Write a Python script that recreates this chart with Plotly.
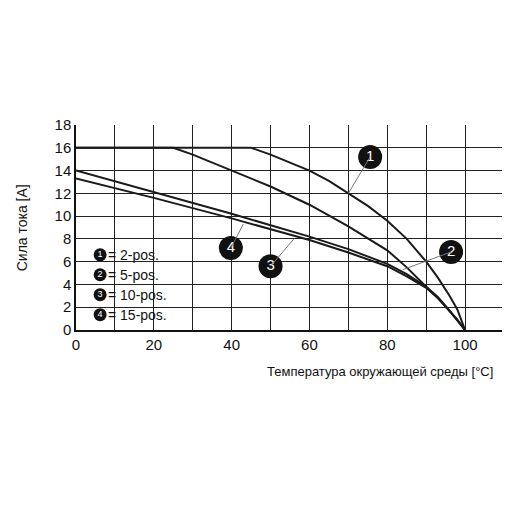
import plotly.graph_objects as go

x1 = [0, 45, 50, 55, 60, 65, 70, 75, 80, 85, 90, 93, 96, 98, 100]
y1 = [16, 16, 15.4, 14.7, 14, 13.1, 12, 10.9, 9.6, 8.0, 6.0, 4.6, 3.0, 1.8, 0]
x2 = [0, 25, 30, 40, 50, 60, 70, 80, 85, 90, 93, 96, 98, 100]
y2 = [16, 16, 15.4, 14, 12.6, 11, 9.1, 7, 5.5, 3.8, 2.8, 1.7, 0.9, 0]
x3 = [0, 20, 40, 60, 70, 80, 85, 90, 93, 96, 98, 100]
y3 = [13.3, 11.6, 9.8, 7.9, 6.8, 5.6, 4.7, 3.7, 2.8, 1.7, 0.9, 0]
x4 = [0, 20, 40, 60, 70, 80, 85, 90, 93, 96, 98, 100]
y4 = [14, 12.1, 10.2, 8.2, 7.1, 5.8, 4.9, 3.8, 2.9, 1.7, 0.9, 0]
labels = ["1", "2", "3", "4"]
label_pos = [(75.6, 15.2), (96.4, 6.85), (50, 5.6), (39.8, 7.2)]
leader_from = [(70, 12), (84, 5.3), (56, 8.0), (43, 9.3)]
legend_text = ["= 2-pos.", "= 5-pos.", "= 10-pos.", "= 15-pos."]

fig = go.Figure()
fig.add_shape(type="rect", x0=3, x1=30, y0=0.8, y1=7.5, fillcolor="white", line_width=0, layer="below")
for xs, ys in [(x1, y1), (x2, y2), (x3, y3), (x4, y4)]:
    fig.add_trace(go.Scatter(x=xs, y=ys, mode="lines", line=dict(color="#1a1a1a", width=2), showlegend=False))
for (lx, ly), (fx, fy), t in zip(label_pos, leader_from, labels):
    fig.add_shape(type="line", x0=fx, y0=fy, x1=lx, y1=ly, line=dict(color="#777", width=1))
    fig.add_trace(go.Scatter(x=[lx], y=[ly], mode="markers+text", text=[t],
                             marker=dict(size=24, color="#111"),
                             textfont=dict(color="white", size=15, family="Liberation Sans"),
                             showlegend=False))
for i, t in enumerate(legend_text):
    yy = 6.6 - i * 1.75
    fig.add_trace(go.Scatter(x=[6.2], y=[yy], mode="markers+text", text=[labels[i]],
                             marker=dict(size=13, color="#111"),
                             textfont=dict(color="white", size=9, family="Liberation Sans"),
                             showlegend=False))
    fig.add_annotation(x=7.6, y=yy, text=t, showarrow=False, xanchor="left",
                       font=dict(size=14, family="Liberation Sans", color="#111"))

fig.update_layout(
    width=510, height=510, plot_bgcolor="white", paper_bgcolor="white",
    margin=dict(l=68, r=14, t=117, b=188),
    xaxis=dict(range=[0, 110], tickmode="array", tickvals=[0, 20, 40, 60, 80, 100],
               showgrid=True, gridcolor="#222", gridwidth=1, zeroline=False,
               showline=True, linecolor="#111", linewidth=1.5,
               minor=dict(dtick=10, showgrid=True, gridcolor="#222"),
               tickfont=dict(size=15, family="Liberation Sans", color="#111")),
    yaxis=dict(range=[0, 18], dtick=2, showgrid=True, gridcolor="#222", gridwidth=1, zeroline=False,
               showline=True, linecolor="#111", linewidth=1.5,
               tickfont=dict(size=15, family="Liberation Sans", color="#111")),
)
fig.add_annotation(xref="paper", yref="paper", x=-0.15, y=0.5, text="Сила тока [A]", textangle=-90,
                   showarrow=False, font=dict(size=14, family="Liberation Sans", color="#111"))
fig.add_annotation(xref="paper", yref="paper", x=0.98, y=-0.25, xanchor="right", text="Температура окружающей среды [°C]",
                   showarrow=False, font=dict(size=13, family="Liberation Sans", color="#111"))
fig.write_html("out.html")
